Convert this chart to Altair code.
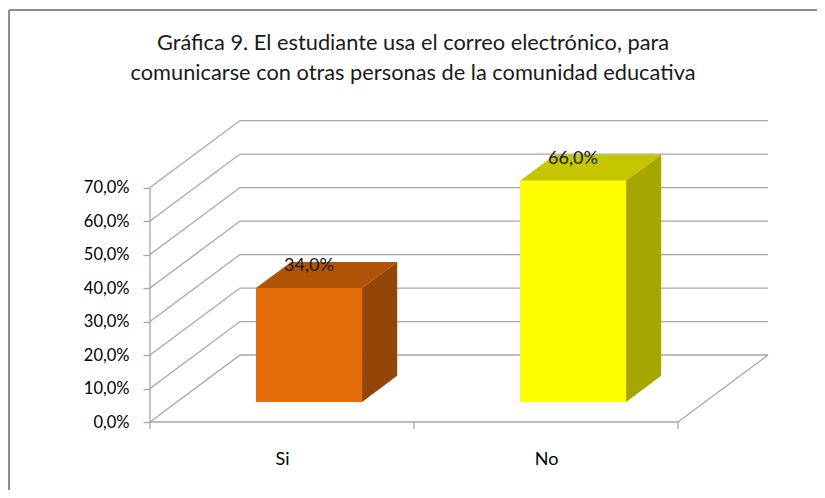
import altair as alt
import pandas as pd

# ---- data ----
categories = ["Si", "No"]
values = [0.34, 0.66]
value_labels = ["34,0%", "66,0%"]
front_colors = ["#E46C0A", "#FFFF00"]
top_colors = ["#B05408", "#C6C600"]
side_colors = ["#944609", "#A6A600"]
y_ticks = [0.0, 0.1, 0.2, 0.3, 0.4, 0.5, 0.6, 0.7]
title_lines = [
    "Gráfica 9. El estudiante usa el correo electrónico, para",
    "comunicarse con otras personas de la comunidad educativa",
]

FONT = "Lato"

# ---- 3D geometry (in data units) ----
DX = 0.341      # depth shift along x (category units)
DY = 0.20       # depth shift along y (value units)
BAR_W = 0.402
BAR_FRONT = 0.30
BAR_DEPTH = 0.39
N = len(categories)

W, H = 620, 304
XMAX = W / 264.0
YMAX = H / 334.9
GRID = "#A6A6A6"

grid_rows = []
for v in y_ticks:
    pts = [(0, 0.0, v), (1, DX, v + DY), (2, N + DX, v + DY)]
    for o, x, y in pts:
        grid_rows.append({"g": f"g{v}", "o": o, "x": x, "y": y})
grid_df = pd.DataFrame(grid_rows)

edge_rows = [
    {"g": "left", "o": 0, "x": 0.0, "y": 0.0},
    {"g": "left", "o": 1, "x": 0.0, "y": max(y_ticks)},
    {"g": "bottom", "o": 0, "x": 0.0, "y": 0.0},
    {"g": "bottom", "o": 1, "x": float(N), "y": 0.0},
    {"g": "right", "o": 0, "x": float(N), "y": 0.0},
    {"g": "right", "o": 1, "x": N + DX, "y": DY},
]
edge_df = pd.DataFrame(edge_rows)

tick_df = pd.DataFrame({"x": [float(i) for i in range(N + 1)], "y": [0.0] * (N + 1)})

front_rows, face_rows, label_rows = [], [], []
d = BAR_DEPTH * DX
dz = BAR_DEPTH * DY
for i, (cat, v) in enumerate(zip(categories, values)):
    c = i + 0.5
    xl = c - BAR_W / 2 + BAR_FRONT * DX
    xr = xl + BAR_W
    yb = BAR_FRONT * DY
    yt = v + yb
    front_rows.append({"x": xl, "x2": xr, "y": yb, "y2": yt, "col": front_colors[i]})
    for (x, y1, y2) in [(xl, yt, yt), (xl + d, yt, yt + dz),
                        (xr, yt, yt + dz), (xr + d, yt + dz, yt + dz)]:
        face_rows.append({"f": f"top{i}", "x": x, "y": y1, "y2": y2, "col": top_colors[i]})
    for (x, y1, y2) in [(xr, yb, yt), (xr + d, yb + dz, yt + dz)]:
        face_rows.append({"f": f"side{i}", "x": x, "y": y1, "y2": y2, "col": side_colors[i]})
    label_rows.append({"x": xl + BAR_W / 2, "y": yt + 0.066, "t": value_labels[i]})

front_df = pd.DataFrame(front_rows)
face_df = pd.DataFrame(face_rows)
label_df = pd.DataFrame(label_rows)

xscale = alt.Scale(domain=[0, XMAX], nice=False, zero=False)
yscale = alt.Scale(domain=[0, YMAX], nice=False, zero=False)

cat_expr = " : ".join(
    [f"datum.value < {i + 1} ? '{c}'" for i, c in enumerate(categories[:-1])]
) + f" : '{categories[-1]}'"

x_axis = alt.Axis(values=[i + 0.5 for i in range(N)], labelExpr=cat_expr, ticks=False,
                  domain=False, grid=False, labelFontSize=18, labelPadding=28,
                  labelColor="#000000", labelFont=FONT, title=None, zindex=1)
y_axis = alt.Axis(values=y_ticks, labelExpr="replace(format(datum.value, '.1%'), '.', ',')",
                  grid=False, domain=False, tickSize=7, tickColor=GRID, tickWidth=1.3,
                  labelFontSize=16.5, labelColor="#000000", labelPadding=14,
                  labelFont=FONT, title=None, zindex=1)

X = alt.X("x:Q", scale=xscale, axis=x_axis)
Y = alt.Y("y:Q", scale=yscale, axis=y_axis)

border = alt.Chart(pd.DataFrame({"k": [0, 1]})).mark_rule(
    color="#8C8C8C", strokeWidth=2
)
border_left = border.encode(x=alt.value(-141), y=alt.value(-108), y2=alt.value(H + 100))
border_top = border.encode(x=alt.value(-141), x2=alt.value(W + 100), y=alt.value(-108))

grid = alt.Chart(grid_df).mark_line(color=GRID, strokeWidth=1.3).encode(
    x=X, y=Y, detail="g:N", order="o:Q",
)

edges = alt.Chart(edge_df).mark_line(color=GRID, strokeWidth=1.3).encode(
    x=X, y=Y, detail="g:N", order="o:Q",
)

ticks = alt.Chart(tick_df).mark_rule(color=GRID, strokeWidth=1.3).encode(
    x=X, y=Y, y2=alt.value(H + 7),
)

faces = alt.Chart(face_df).mark_area(opacity=1).encode(
    x=X, y=Y, y2="y2:Q",
    color=alt.Color("col:N", scale=None),
    detail="f:N",
)

fronts = alt.Chart(front_df).mark_rect().encode(
    x=X, x2="x2:Q", y=Y, y2="y2:Q",
    color=alt.Color("col:N", scale=None),
)

labels = alt.Chart(label_df).mark_text(
    fontSize=18, font=FONT, color="#1A1A1A", baseline="middle"
).encode(x=X, y=Y, text="t:N")

chart = alt.layer(border_left, border_top, grid, edges, ticks, faces, fronts, labels).properties(
    width=W, height=H,
    title=alt.TitleParams(text=title_lines, fontSize=21.8, font=FONT,
                          fontWeight="normal", color="#1A1A1A", anchor="middle",
                          dx=-47, dy=76, offset=0, lineHeight=30),
    autosize=alt.AutoSizeParams(type="none"),
    padding={"left": 142, "top": 110, "right": 47, "bottom": 68},
).configure(background="white", view=alt.ViewConfig(stroke=None))

chart.save("out.html", embed_options={"renderer": "svg", "actions": False})
